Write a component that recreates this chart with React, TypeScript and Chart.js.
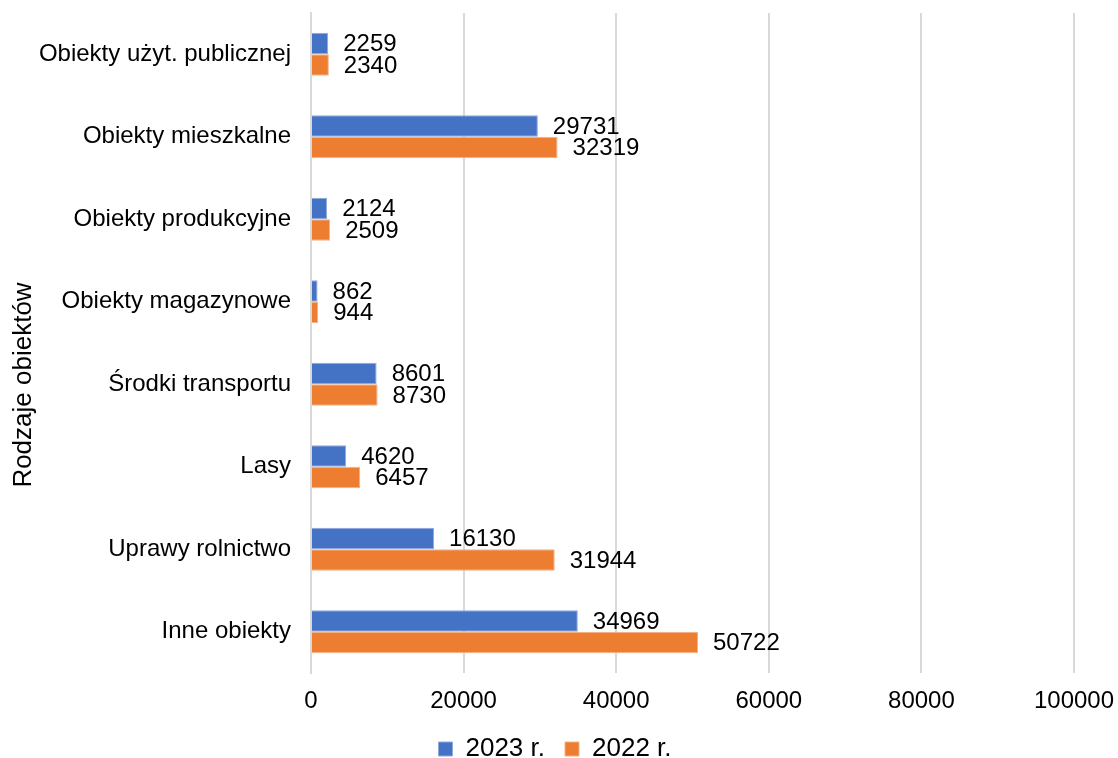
import React, { useEffect, useRef } from "react";
import { Chart, registerables } from "chart.js";

Chart.register(...registerables);

const categories = [
  "Obiekty użyt. publicznej",
  "Obiekty mieszkalne",
  "Obiekty produkcyjne",
  "Obiekty magazynowe",
  "Środki transportu",
  "Lasy",
  "Uprawy rolnictwo",
  "Inne obiekty",
];
const values2023 = [2259, 29731, 2124, 862, 8601, 4620, 16130, 34969];
const values2022 = [2340, 32319, 2509, 944, 8730, 6457, 31944, 50722];
const seriesNames = ["2023 r.", "2022 r."];
const axisTitle = "Rodzaje obiektów";

const FONT = "Arial, 'Liberation Sans', sans-serif";
const FS = 24;
const FS_BIG = 26;

const labelsPlugin = {
  id: "barLabels",
  afterDatasetsDraw(chart: any) {
    const ctx = chart.ctx;
    ctx.save();
    ctx.font = `${FS}px ${FONT}`;
    ctx.fillStyle = "#000";
    ctx.textAlign = "left";
    ctx.textBaseline = "middle";
    chart.data.datasets.forEach((ds: any, di: number) => {
      const meta = chart.getDatasetMeta(di);
      meta.data.forEach((bar: any, i: number) => {
        ctx.fillText(String(ds.data[i]), bar.x + 15, bar.y + 1);
      });
    });
    ctx.restore();
  },
};

const titlePlugin = {
  id: "yTitle",
  afterDraw(chart: any) {
    const ctx = chart.ctx;
    ctx.save();
    ctx.font = `${FS_BIG}px ${FONT}`;
    ctx.fillStyle = "#000";
    ctx.textAlign = "center";
    ctx.textBaseline = "middle";
    ctx.translate(24, 385);
    ctx.rotate(-Math.PI / 2);
    ctx.fillText(axisTitle, 0, 0);
    ctx.restore();
  },
};

export default function App() {
  const ref = useRef<HTMLCanvasElement>(null);
  useEffect(() => {
    const chart = new Chart(ref.current!, {
      type: "bar",
      data: {
        labels: categories,
        datasets: [
          {
            label: seriesNames[0],
            data: values2023,
            backgroundColor: "#4472C4",
            borderColor: "#8FAADC",
            borderWidth: 1,
            categoryPercentage: 0.52,
            barPercentage: 1,
          },
          {
            label: seriesNames[1],
            data: values2022,
            backgroundColor: "#ED7D31",
            borderColor: "#F4B183",
            borderWidth: 1,
            categoryPercentage: 0.52,
            barPercentage: 1,
          },
        ],
      },
      options: {
        indexAxis: "y",
        animation: false,
        responsive: false,
        layout: { padding: { top: 13, right: 44, left: 36, bottom: -14 } },
        scales: {
          x: {
            min: 0,
            max: 100000,
            ticks: {
              stepSize: 20000,
              font: { family: FONT, size: FS },
              color: "#000",
              padding: 14,
              callback: (v: any) => String(v),
            },
            grid: { color: "#D9D9D9", lineWidth: 2, drawTicks: false },
            border: { display: false },
            afterFit(scale: any) {
              scale.height = 43;
              scale.paddingLeft = 0;
              scale.paddingRight = 0;
            },
          },
          y: {
            ticks: {
              font: { family: FONT, size: FS },
              color: "#000",
              padding: 20,
            },
            grid: { display: false, drawTicks: false },
            border: { display: true, color: "#D9D9D9", width: 2 },
            afterFit(scale: any) {
              scale.width = 275;
              scale.paddingTop = 0;
              scale.paddingBottom = 0;
            },
          },
        },
        plugins: {
          legend: {
            position: "bottom",
            labels: {
              font: { family: FONT, size: FS_BIG },
              color: "#000",
              boxWidth: 14,
              boxHeight: 14,
              padding: 20,
            },
          },
          tooltip: { enabled: false },
        },
      },
      plugins: [labelsPlugin, titlePlugin],
    });
    return () => chart.destroy();
  }, []);
  return (
    <div style={{ position: "fixed", left: 0, top: 0, width: 1118, height: 758, background: "#fff" }}>
      <canvas ref={ref} width={1118} height={758} />
    </div>
  );
}
